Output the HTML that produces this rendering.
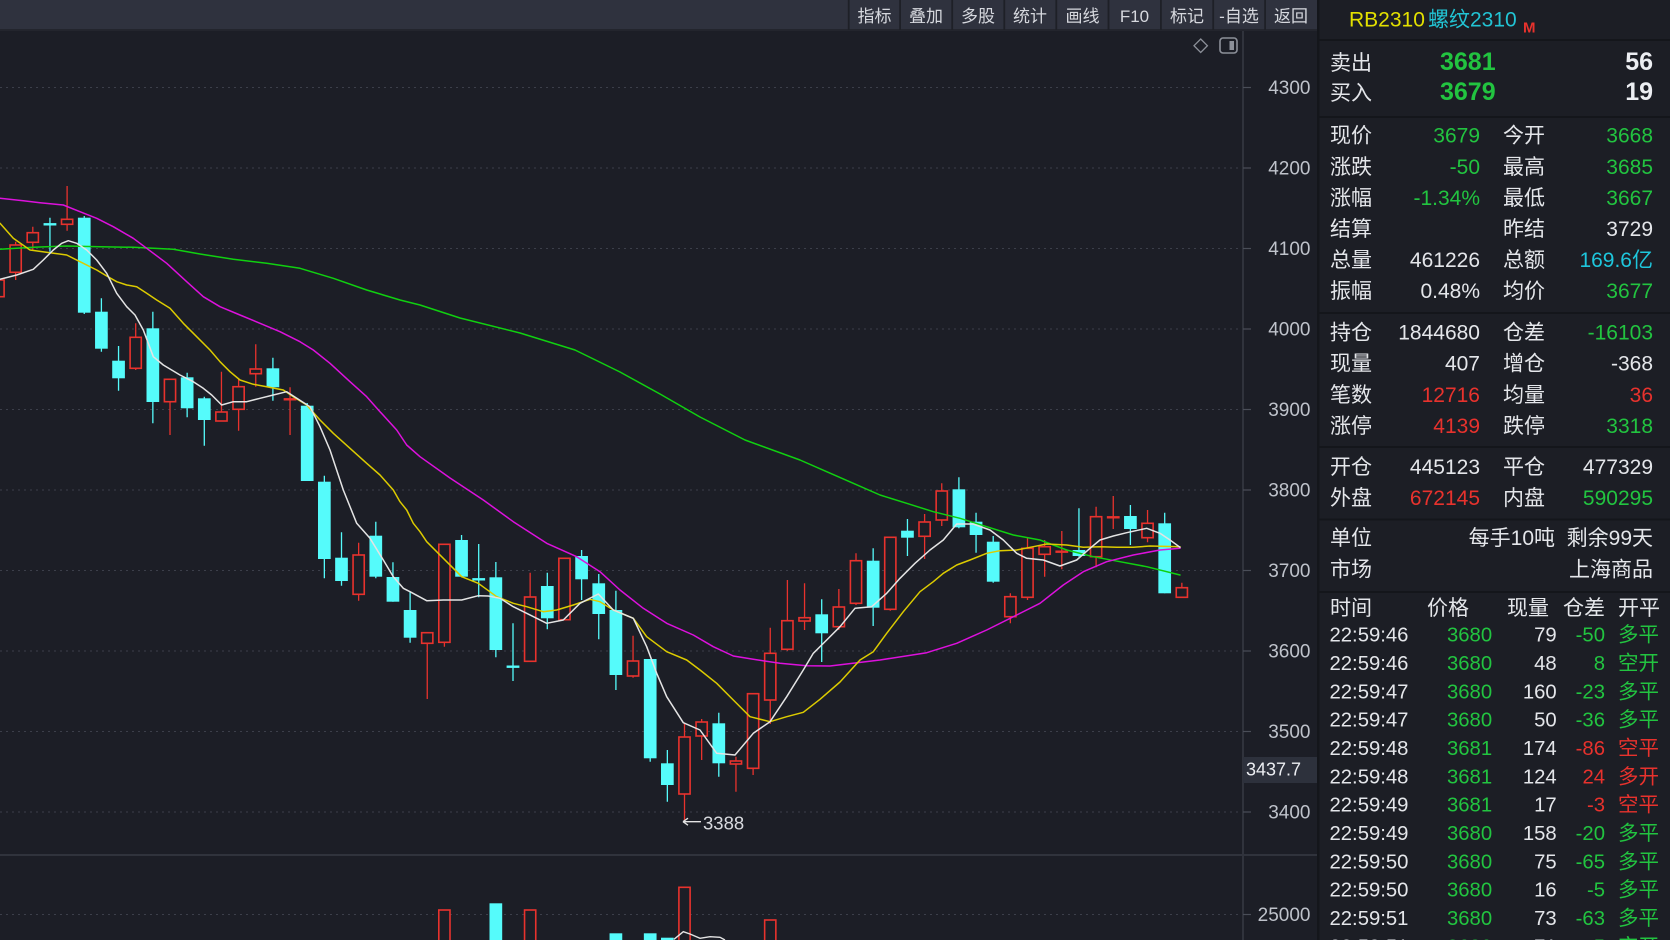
<!DOCTYPE html>
<html><head><meta charset="utf-8"><style>
html,body{margin:0;padding:0;background:#1c1e26;width:1670px;height:940px;overflow:hidden}
svg{display:block}
text{font-family:"Liberation Sans","Noto Sans CJK SC",sans-serif}
</style></head><body>
<svg width="1670" height="940" viewBox="0 0 1670 940" xmlns="http://www.w3.org/2000/svg">
<defs>
<clipPath id="cm"><rect x="0" y="31" width="1243" height="823"/></clipPath>
<clipPath id="cv"><rect x="0" y="856" width="1243" height="84"/></clipPath>
</defs>
<rect x="0" y="0" width="1670" height="940" fill="#1c1e26"/>
<!-- toolbar -->
<rect x="0" y="0" width="1317" height="30" fill="#2f323e"/>
<rect x="0" y="29" width="1317" height="2" fill="#23252d"/>
<g fill="#1e2027">
<rect x="847.8" y="0" width="1.8" height="30"/><rect x="899.2" y="0" width="1.8" height="30"/><rect x="951.3" y="0" width="1.8" height="30"/><rect x="1003.4" y="0" width="1.8" height="30"/><rect x="1055.4" y="0" width="1.8" height="30"/><rect x="1107.6" y="0" width="1.8" height="30"/><rect x="1160" y="0" width="1.8" height="30"/><rect x="1212.3" y="0" width="1.8" height="30"/><rect x="1264.2" y="0" width="1.8" height="30"/>
</g>
<g fill="#d6d8de" font-size="17" text-anchor="middle">
<text x="874.5" y="22">指标</text><text x="926" y="22">叠加</text><text x="978" y="22">多股</text><text x="1030" y="22">统计</text><text x="1082.5" y="22">画线</text><text x="1134.5" y="22">F10</text><text x="1187" y="22">标记</text><text x="1239" y="22">-自选</text><text x="1291" y="22">返回</text>
</g>
<!-- icons -->
<path d="M1200.7,39 L1207.4,45.7 L1200.7,52.4 L1194,45.7 Z" fill="none" stroke="#8c9099" stroke-width="1.3"/>
<rect x="1220" y="38" width="17" height="15" rx="3" fill="none" stroke="#8c9099" stroke-width="1.6"/>
<rect x="1229.5" y="41" width="4.5" height="9" fill="#8c9099"/>
<!-- grid -->
<g stroke="#3c3f4a" stroke-width="1" stroke-dasharray="2,4">
<line x1="0" y1="87.5" x2="1238" y2="87.5"/><line x1="0" y1="168" x2="1238" y2="168"/><line x1="0" y1="248.5" x2="1238" y2="248.5"/><line x1="0" y1="329" x2="1238" y2="329"/><line x1="0" y1="409.5" x2="1238" y2="409.5"/><line x1="0" y1="490" x2="1238" y2="490"/><line x1="0" y1="570.5" x2="1238" y2="570.5"/><line x1="0" y1="651" x2="1238" y2="651"/><line x1="0" y1="731.5" x2="1238" y2="731.5"/><line x1="0" y1="812" x2="1238" y2="812"/><line x1="0" y1="914.5" x2="1238" y2="914.5"/>
</g>
<!-- axis -->
<line x1="1243" y1="31" x2="1243" y2="940" stroke="#363a44" stroke-width="1.5"/>
<g stroke="#4a4e58" stroke-width="1.2">
<line x1="1243" y1="87.5" x2="1251" y2="87.5"/><line x1="1243" y1="168" x2="1251" y2="168"/><line x1="1243" y1="248.5" x2="1251" y2="248.5"/><line x1="1243" y1="329" x2="1251" y2="329"/><line x1="1243" y1="409.5" x2="1251" y2="409.5"/><line x1="1243" y1="490" x2="1251" y2="490"/><line x1="1243" y1="570.5" x2="1251" y2="570.5"/><line x1="1243" y1="651" x2="1251" y2="651"/><line x1="1243" y1="731.5" x2="1251" y2="731.5"/><line x1="1243" y1="812" x2="1251" y2="812"/><line x1="1243" y1="914.5" x2="1251" y2="914.5"/>
</g>
<g fill="#bfc3cb" font-size="19" text-anchor="end">
<text x="1310.5" y="93.8">4300</text><text x="1310.5" y="174.3">4200</text><text x="1310.5" y="254.8">4100</text><text x="1310.5" y="335.3">4000</text><text x="1310.5" y="415.8">3900</text><text x="1310.5" y="496.3">3800</text><text x="1310.5" y="576.8">3700</text><text x="1310.5" y="657.3">3600</text><text x="1310.5" y="737.8">3500</text><text x="1310.5" y="818.3">3400</text><text x="1310.5" y="920.8">25000</text>
</g>
<rect x="1243" y="757" width="75" height="26" fill="#2d313c"/>
<text x="1246" y="775.5" fill="#eceef2" font-size="18">3437.7</text>
<rect x="0" y="854" width="1318" height="2" fill="#30333c"/>

<g clip-path="url(#cm)">
<!-- red wicks -->
<g stroke="#e8322d" stroke-width="1.3" fill="none">
<path d="M-1.5,276V280M-1.5,296.7V300M15.65,241.7V245M15.65,272.3V280M32.8,226.7V232.7M32.8,242.3V250M67.1,186V219.3M67.1,224.3V230.7M135.7,323.3V337.3M135.7,368.3V370M170,401.7V435M221.45,371.7V412M238.6,379.3V386.7M238.6,409.3V430.7M255.75,344.3V369M255.75,373.7V386.7M290.05,387.3V435M358.65,542.7V555M358.65,594.3V600.7M427.25,643.3V699M444.4,642.3V646.7M530.15,572.7V597M530.15,661.3V662M633.05,635.7V661M633.05,676V677.7M684.5,724V737M684.5,794V821.7M701.65,719V722M701.65,736V760M735.95,756.7V761M735.95,764V791.7M753.1,768.3V775M770.25,627.7V653.3M770.25,700V724M787.4,580V620.7M787.4,649.3V650.7M804.55,583.3V617.7M804.55,621V630M838.85,589V607M838.85,626.7V630M856,553.3V560.7M856,603.3V605M890.3,609.3V610.7M924.6,514V522M924.6,536.3V559M941.75,483.3V491M941.75,520V526M1010.35,593.3V596.7M1010.35,616.7V623.3M1027.5,537.7V548.3M1027.5,597.3V600M1044.65,540V546.7M1044.65,554.3V576.7M1061.8,531V569.3M1096.1,506.7V516.7M1096.1,556.7V567.3M1113.25,496V529M1147.55,510V523.3M1147.55,537.7V542.3M1181.85,582.7V587.7"/>
</g>
<!-- red bodies -->
<g fill="#1c1e26" stroke="#e8322d" stroke-width="1.6">
<rect x="-7.1" y="280" width="11.2" height="16.7"/><rect x="10.05" y="245" width="11.2" height="27.3"/><rect x="27.2" y="232.7" width="11.2" height="9.6"/><rect x="61.5" y="219.3" width="11.2" height="5"/><rect x="130.1" y="337.3" width="11.2" height="31"/><rect x="164.4" y="379.3" width="11.2" height="22.4"/><rect x="215.85" y="412" width="11.2" height="9"/><rect x="233" y="386.7" width="11.2" height="22.6"/><rect x="250.15" y="369" width="11.2" height="4.7"/><rect x="353.05" y="555" width="11.2" height="39.3"/><rect x="421.65" y="632.7" width="11.2" height="10.6"/><rect x="438.8" y="544.3" width="11.2" height="98"/><rect x="524.55" y="597" width="11.2" height="64.3"/><rect x="558.85" y="558.3" width="11.2" height="61.4"/><rect x="627.45" y="661" width="11.2" height="15"/><rect x="678.9" y="737" width="11.2" height="57"/><rect x="696.05" y="722" width="11.2" height="14"/><rect x="730.35" y="761" width="11.2" height="3"/><rect x="747.5" y="693.7" width="11.2" height="74.6"/><rect x="764.65" y="653.3" width="11.2" height="46.7"/><rect x="781.8" y="620.7" width="11.2" height="28.6"/><rect x="798.95" y="617.7" width="11.2" height="3.3"/><rect x="833.25" y="607" width="11.2" height="19.7"/><rect x="850.4" y="560.7" width="11.2" height="42.6"/><rect x="884.7" y="537.3" width="11.2" height="72"/><rect x="919" y="522" width="11.2" height="14.3"/><rect x="936.15" y="491" width="11.2" height="29"/><rect x="1004.75" y="596.7" width="11.2" height="20"/><rect x="1021.9" y="548.3" width="11.2" height="49"/><rect x="1039.05" y="546.7" width="11.2" height="7.6"/><rect x="1090.5" y="516.7" width="11.2" height="40"/><rect x="1141.95" y="523.3" width="11.2" height="14.4"/><rect x="1176.25" y="587.7" width="11.2" height="9.6"/>
</g>
<g fill="#e8322d">
<rect x="283.65" y="398.1" width="12.8" height="2.4"/><rect x="1055.4" y="550.5" width="12.8" height="2.4"/><rect x="1106.85" y="516.1" width="12.8" height="2.4"/>
</g>
<!-- cyan wicks -->
<g stroke="#55fbfb" stroke-width="1.3" fill="none">
<path d="M49.95,217.7V251.7M84.25,216V314M101.4,298.3V351.7M118.55,346V390.7M152.85,311.7V423.3M187.15,372.7V417.3M204.3,396.7V445.7M272.9,357.7V400.7M307.2,403V481M324.35,475.7V578.3M341.5,532.3V585.7M375.8,521.7V578.3M392.95,562.3V601.7M410.1,591.7V642.7M461.55,535V577.3M478.7,544V597.3M495.85,562V657.3M513,623.3V681M547.3,572.7V629.3M581.6,550V600M598.75,574V639.3M615.9,590.7V690M650.2,659V761.7M667.35,750V801.7M718.8,712.7V776.7M821.7,599.3V662M873.15,548.3V626M907.45,519V556M958.9,477.3V528.3M976.05,512.7V552.7M993.2,536V582.7M1078.95,508.3V556.7M1130.4,505V545M1164.7,512.7V593.3"/>
</g>
<g fill="#55fbfb">
<rect x="77.9" y="217.7" width="12.7" height="95"/><rect x="95.05" y="311.7" width="12.7" height="37"/><rect x="112.2" y="360.7" width="12.7" height="17.6"/><rect x="146.5" y="328.3" width="12.7" height="73.7"/><rect x="180.8" y="377.3" width="12.7" height="31"/><rect x="197.95" y="398.3" width="12.7" height="21.7"/><rect x="266.55" y="368.3" width="12.7" height="19"/><rect x="300.85" y="405.7" width="12.7" height="75.3"/><rect x="318" y="481.7" width="12.7" height="77.3"/><rect x="335.15" y="557.7" width="12.7" height="23.3"/><rect x="369.45" y="535.7" width="12.7" height="41"/><rect x="386.6" y="577" width="12.7" height="24.7"/><rect x="403.75" y="610" width="12.7" height="27.7"/><rect x="455.2" y="540" width="12.7" height="36.7"/><rect x="489.5" y="577.3" width="12.7" height="72.7"/><rect x="540.95" y="586" width="12.7" height="32.3"/><rect x="575.25" y="556" width="12.7" height="23.3"/><rect x="592.4" y="583.3" width="12.7" height="30.7"/><rect x="609.55" y="610" width="12.7" height="65"/><rect x="643.85" y="659" width="12.7" height="99.3"/><rect x="661" y="763.3" width="12.7" height="21.7"/><rect x="712.45" y="723.3" width="12.7" height="40"/><rect x="815.35" y="614.3" width="12.7" height="19"/><rect x="866.8" y="560.7" width="12.7" height="47"/><rect x="901.1" y="530.7" width="12.7" height="7"/><rect x="952.55" y="489.3" width="12.7" height="38"/><rect x="969.7" y="521.7" width="12.7" height="13.3"/><rect x="986.85" y="541.7" width="12.7" height="40"/><rect x="1072.6" y="550" width="12.7" height="6"/><rect x="1124.05" y="516" width="12.7" height="13"/><rect x="1158.35" y="523.3" width="12.7" height="70"/>
<rect x="43.55" y="223.1" width="12.8" height="2.4"/><rect x="472.3" y="578.1" width="12.8" height="2.4"/><rect x="506.6" y="665.5" width="12.8" height="2.4"/>
</g>
<!-- MA lines -->
<g fill="none" stroke-width="1.5" stroke-linejoin="round" stroke-linecap="round">
<polyline stroke="#10d010" points="0,249.3 33.3,247.3 66.7,246 100,246.7 133.3,247.3 173.3,249.3 200,254 233.3,259.3 266.7,263.3 300,268.3 333.3,278.3 366.7,290 400,300 420,305 460,318 520,333 575,350 620,372 660,394 700,417 745,440 800,460 826.7,471.7 853.3,483.3 880,495 906.7,503.3 933.3,511.7 960,518.3 986.7,526.7 1013.3,535 1040,540 1066.7,550 1093.3,556.7 1120,561.7 1146.7,566.7 1180,575"/>
<polyline stroke="#dd11dd" points="0,198.3 23.3,200.7 40,202.7 63.3,205 80,211.7 96.7,218.3 113.3,226.7 133.3,238.3 146.7,248.3 166.7,263.3 186.7,281.7 203.3,296.7 220,306.7 240,315 260,323.3 280,331.7 300,341.7 313.3,350 330,363.3 350,381.7 366.7,396.7 380,411.7 396.7,430 406.7,445 420,456.7 450,478 483.3,500 513.3,521.7 546.7,543.3 576.7,556.7 600,571.7 620,590 643.3,608.3 666.7,623.3 693.3,635 713.3,646.7 733.3,656 753.3,659.3 780,663.3 806.7,665.7 830,666 855,663 880,660 926.7,652.7 956.7,643.3 986.7,630 1016.7,615 1040,603.3 1063.3,585 1083.3,571.7 1106.7,561.7 1133.3,555 1160,550 1180,548.3"/>
<polyline stroke="#dccb00" points="0,223.3 13.3,238.3 30,250 50,252.7 66.7,255 80,261.7 96.7,270 106.7,276 116.7,281.7 126.7,285 136.7,286.7 146.7,293.3 156.7,300 170,308.3 183.3,323.3 196.7,336.7 210,350 220,361.7 230,371.7 240,380 253.3,384.3 266.7,386.7 283.3,390 293.3,396.7 306.7,405 320,420 333.3,433.3 350,448.3 366.7,463.3 380,475 393.3,490 400,501.7 406.7,510 413.3,523.3 420,531.7 426.7,541.7 443.3,558.3 461.7,576.7 478.3,583.3 496.7,596.7 513.3,603.3 526.7,606.7 543.3,611.7 556.7,610 573.3,605 590,599.3 600,601.7 613.3,610 633.3,618.3 646.7,636.7 666.7,651.7 686.7,660 700,670 716.7,683.3 733.3,700 750,716.7 770,721.7 786.7,716.7 803.3,712.3 820,699.3 840,682 860,660 873.3,651.7 886.7,633.3 903.3,611.7 920,591.7 933.3,581.7 943.3,573.3 956.7,565 970,560 986.7,553.3 1000,550.7 1016.7,550 1033.3,546.7 1046.7,544 1066.7,545 1083.3,547.3 1100,546.7 1116.7,547.3 1133.3,547.3 1150,546 1180,546.7"/>
<polyline stroke="#e4e4e4" points="0,279.3 16.7,275 33.3,269.3 43.3,260 53.3,250 61.7,243.3 68.3,240.7 76.7,243.3 86.7,250 96.7,260 106.7,273.3 116.7,293.3 126.7,306.7 135,315 143.3,330 153.3,356.7 163.3,365 180,375 193.3,381.7 203.3,388.3 211.7,395 221.7,405 233.3,401.7 246.7,401.7 260,398.3 273.3,395 286.7,391.7 310,406.7 320,426.7 330,450 343.3,490 356.7,523.3 370,538.3 383.3,560 393.3,576.7 403.3,588.3 410,591.7 426.7,600.7 443.3,600 461.7,600 478.3,595.7 488.3,596 500,598.3 513.3,606.7 526.7,613.3 546.7,623.3 563.3,620 580,603.3 598.3,594 613.3,610 633.3,618.3 646.7,646.7 656.7,673.3 666.7,696.7 683.3,722.7 700,730 716.7,753.3 735,755 753.3,733.3 770,721.7 786.7,696.7 803.3,670 813.3,653.3 826.7,640 840,626.7 855,608.3 871.7,606.7 886.7,593.3 900,578.3 915,563.3 930,550 943.3,540 956.7,524 973.3,524 990,530 1003.3,540 1016.7,553.3 1026.7,558.3 1043.3,560 1060,566 1076.7,560 1090,548.3 1100,540 1113.3,536 1126.7,532.7 1146.7,528.3 1160,533.3 1170,540 1180,547.3"/>
</g>
<!-- low marker -->
<path d="M683,821.7 H701 M683,821.7 L688,818.2 M683,821.7 L688,825.2" stroke="#e4e4e4" stroke-width="1.3" fill="none"/>
<text x="703" y="829.5" fill="#d8dadf" font-size="18.5">3388</text>
</g>

<!-- volume -->
<g clip-path="url(#cv)">
<g fill="#1c1e26" stroke="#e8322d" stroke-width="1.6">
<rect x="438.8" y="910" width="11.2" height="40"/><rect x="524.55" y="910" width="11.2" height="40"/><rect x="678.9" y="887.3" width="11.2" height="60"/><rect x="764.65" y="920" width="11.2" height="30"/>
</g>
<g fill="#55fbfb">
<rect x="489.5" y="903.3" width="12.7" height="40"/><rect x="609.55" y="933.3" width="12.7" height="10"/><rect x="643.85" y="933.3" width="12.7" height="10"/><rect x="661" y="937.7" width="12.7" height="5"/>
</g>
<polyline fill="none" stroke="#e4e4e4" stroke-width="1.4" points="674,939.3 683.3,931.7 690,934 700,938.3 710,936.7 720,937.3 725,940"/>
</g>

<!-- right panel -->
<rect x="1318" y="0" width="352" height="940" fill="#1c1e25"/>
<rect x="1317" y="0" width="2.5" height="940" fill="#14161b"/>
<g fill="#14161b">
<rect x="1319" y="39" width="351" height="2"/><rect x="1319" y="116" width="351" height="2"/><rect x="1319" y="312" width="351" height="2"/><rect x="1319" y="446" width="351" height="2"/><rect x="1319" y="518.5" width="351" height="2"/><rect x="1319" y="591" width="351" height="2"/>
</g>
<text x="1349" y="26.7" fill="#e3e000" font-size="21">RB2310</text>
<text x="1428" y="26.7" fill="#22c4d4" font-size="21">螺纹2310</text>
<text x="1523" y="32.7" fill="#e8322d" font-size="15" font-weight="bold">M</text>

<g font-size="21" fill="#e4e6ea">
<text x="1330" y="70">卖出</text><text x="1330" y="100">买入</text>
</g>
<g font-size="25" font-weight="bold">
<text x="1440" y="70" fill="#22c440">3681</text><text x="1440" y="100" fill="#22c440">3679</text>
<text x="1653" y="70" fill="#eceef2" text-anchor="end">56</text><text x="1653" y="100" fill="#eceef2" text-anchor="end">19</text>
</g>

<g font-size="21" fill="#e4e6ea">
<text x="1330" y="142.7">现价</text><text x="1503" y="142.7">今开</text>
<text x="1330" y="173.8">涨跌</text><text x="1503" y="173.8">最高</text>
<text x="1330" y="204.9">涨幅</text><text x="1503" y="204.9">最低</text>
<text x="1330" y="236">结算</text><text x="1503" y="236">昨结</text>
<text x="1330" y="267.1">总量</text><text x="1503" y="267.1">总额</text>
<text x="1330" y="298.2">振幅</text><text x="1503" y="298.2">均价</text>
<text x="1330" y="339.3">持仓</text><text x="1503" y="339.3">仓差</text>
<text x="1330" y="370.6">现量</text><text x="1503" y="370.6">增仓</text>
<text x="1330" y="401.9">笔数</text><text x="1503" y="401.9">均量</text>
<text x="1330" y="433.2">涨停</text><text x="1503" y="433.2">跌停</text>
<text x="1330" y="474">开仓</text><text x="1503" y="474">平仓</text>
<text x="1330" y="505">外盘</text><text x="1503" y="505">内盘</text>
<text x="1330" y="545">单位</text><text x="1330" y="576.7">市场</text>
<text x="1555" y="545" text-anchor="end">每手10吨</text><text x="1653" y="545" text-anchor="end">剩余99天</text>
<text x="1653" y="576.7" text-anchor="end">上海商品</text>
<text x="1330" y="615">时间</text><text x="1427" y="615">价格</text><text x="1507" y="615">现量</text><text x="1563" y="615">仓差</text><text x="1618" y="615">开平</text>
</g>
<g font-size="21" text-anchor="end">
<text x="1480" y="142.7" fill="#22c440">3679</text><text x="1653" y="142.7" fill="#22c440">3668</text>
<text x="1480" y="173.8" fill="#22c440">-50</text><text x="1653" y="173.8" fill="#22c440">3685</text>
<text x="1480" y="204.9" fill="#22c440">-1.34%</text><text x="1653" y="204.9" fill="#22c440">3667</text>
<text x="1653" y="236" fill="#e4e6ea">3729</text>
<text x="1480" y="267.1" fill="#e4e6ea">461226</text><text x="1653" y="267.1" fill="#1ec6dc">169.6亿</text>
<text x="1480" y="298.2" fill="#e4e6ea">0.48%</text><text x="1653" y="298.2" fill="#22c440">3677</text>
<text x="1480" y="339.3" fill="#e4e6ea">1844680</text><text x="1653" y="339.3" fill="#22c440">-16103</text>
<text x="1480" y="370.6" fill="#e4e6ea">407</text><text x="1653" y="370.6" fill="#e4e6ea">-368</text>
<text x="1480" y="401.9" fill="#e8322d">12716</text><text x="1653" y="401.9" fill="#e8322d">36</text>
<text x="1480" y="433.2" fill="#e8322d">4139</text><text x="1653" y="433.2" fill="#22c440">3318</text>
<text x="1480" y="474" fill="#e4e6ea">445123</text><text x="1653" y="474" fill="#e4e6ea">477329</text>
<text x="1480" y="505" fill="#e8322d">672145</text><text x="1653" y="505" fill="#22c440">590295</text>
</g>

<!-- trades -->
<g font-size="20.3" fill="#e4e6ea">
<text x="1329.5" y="641.7">22:59:46</text><text x="1329.5" y="670">22:59:46</text><text x="1329.5" y="698.4">22:59:47</text><text x="1329.5" y="726.7">22:59:47</text><text x="1329.5" y="755">22:59:48</text><text x="1329.5" y="783.4">22:59:48</text><text x="1329.5" y="811.7">22:59:49</text><text x="1329.5" y="840">22:59:49</text><text x="1329.5" y="868.3">22:59:50</text><text x="1329.5" y="896.7">22:59:50</text><text x="1329.5" y="925">22:59:51</text><text x="1329.5" y="953.3">22:59:51</text>
</g>
<g font-size="20.3" fill="#22c440">
<text x="1447" y="641.7">3680</text><text x="1447" y="670">3680</text><text x="1447" y="698.4">3680</text><text x="1447" y="726.7">3680</text><text x="1447" y="755">3681</text><text x="1447" y="783.4">3681</text><text x="1447" y="811.7">3681</text><text x="1447" y="840">3680</text><text x="1447" y="868.3">3680</text><text x="1447" y="896.7">3680</text><text x="1447" y="925">3680</text><text x="1447" y="953.3">3680</text>
</g>
<g font-size="20.3" fill="#e4e6ea" text-anchor="end">
<text x="1556.7" y="641.7">79</text><text x="1556.7" y="670">48</text><text x="1556.7" y="698.4">160</text><text x="1556.7" y="726.7">50</text><text x="1556.7" y="755">174</text><text x="1556.7" y="783.4">124</text><text x="1556.7" y="811.7">17</text><text x="1556.7" y="840">158</text><text x="1556.7" y="868.3">75</text><text x="1556.7" y="896.7">16</text><text x="1556.7" y="925">73</text><text x="1556.7" y="953.3">71</text>
</g>
<g font-size="20.3" text-anchor="end">
<text x="1605" y="641.7" fill="#22c440">-50</text><text x="1605" y="670" fill="#22c440">8</text><text x="1605" y="698.4" fill="#22c440">-23</text><text x="1605" y="726.7" fill="#22c440">-36</text><text x="1605" y="755" fill="#e8322d">-86</text><text x="1605" y="783.4" fill="#e8322d">24</text><text x="1605" y="811.7" fill="#e8322d">-3</text><text x="1605" y="840" fill="#22c440">-20</text><text x="1605" y="868.3" fill="#22c440">-65</text><text x="1605" y="896.7" fill="#22c440">-5</text><text x="1605" y="925" fill="#22c440">-63</text><text x="1605" y="953.3" fill="#22c440">-5</text>
</g>
<g font-size="20.5">
<text x="1618" y="641.7" fill="#22c440">多平</text><text x="1618" y="670" fill="#22c440">空开</text><text x="1618" y="698.4" fill="#22c440">多平</text><text x="1618" y="726.7" fill="#22c440">多平</text><text x="1618" y="755" fill="#e8322d">空平</text><text x="1618" y="783.4" fill="#e8322d">多开</text><text x="1618" y="811.7" fill="#e8322d">空平</text><text x="1618" y="840" fill="#22c440">多平</text><text x="1618" y="868.3" fill="#22c440">多平</text><text x="1618" y="896.7" fill="#22c440">多平</text><text x="1618" y="925" fill="#22c440">多平</text><text x="1618" y="953.3" fill="#22c440">空开</text>
</g>
</svg>
</body></html>
